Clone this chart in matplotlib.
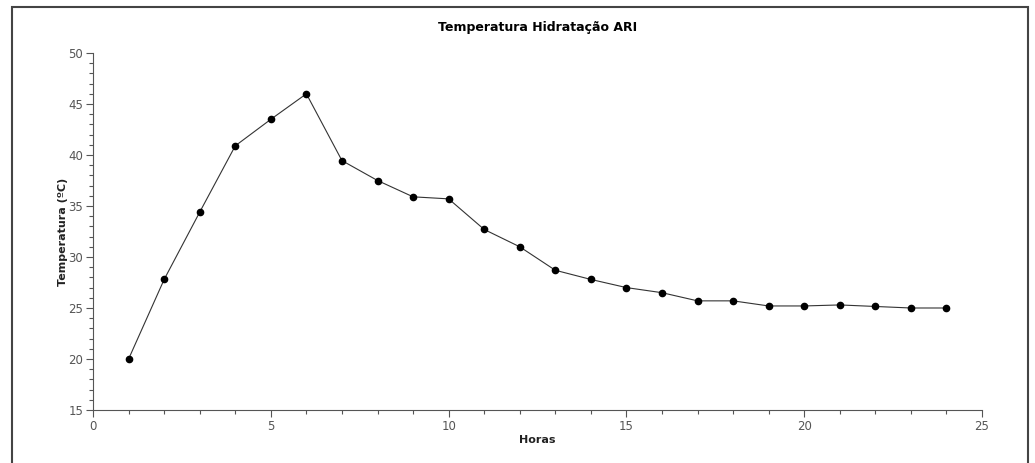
import numpy as np
import matplotlib
matplotlib.use('Agg')
import matplotlib.pyplot as plt
from matplotlib.patches import Rectangle
from matplotlib.ticker import MultipleLocator

horas = [1, 2, 3, 4, 5, 6, 7, 8, 9, 10, 11, 12,
         13, 14, 15, 16, 17, 18, 19, 20, 21, 22, 23, 24]
temperatura = [20.0, 27.8, 34.4, 40.9, 43.5, 46.0, 39.45, 37.5, 35.9, 35.7, 32.7, 31.0,
               28.7, 27.8, 27.0, 26.5, 25.7, 25.7, 25.2, 25.2, 25.3, 25.15, 25.0, 25.0]

plt.rcParams['font.family'] = ['DejaVu Sans']

fig = plt.figure(figsize=(10.35, 4.63), dpi=100)
ax = fig.add_axes([0.0899, 0.1145, 0.8589, 0.771])

ax.plot(horas, temperatura, '-', color='#333333', lw=0.8,
        marker='o', markersize=4.5, markerfacecolor='black', markeredgecolor='black')

ax.set_xlim(0, 25)
ax.set_ylim(15, 50)
ax.xaxis.set_major_locator(MultipleLocator(5))
ax.xaxis.set_minor_locator(MultipleLocator(1))
ax.yaxis.set_major_locator(MultipleLocator(5))
ax.yaxis.set_minor_locator(MultipleLocator(1))

for s in ['top', 'right']:
    ax.spines[s].set_visible(False)
for s in ['left', 'bottom']:
    ax.spines[s].set_color('#555555')
    ax.spines[s].set_linewidth(0.8)

ax.tick_params(which='major', direction='out', length=5, width=0.8, color='#555555',
               labelsize=8.5, labelcolor='#555555', pad=2)
ax.tick_params(which='minor', direction='out', length=3, width=0.8, color='#555555')

ax.set_title('Temperatura Hidratação ARI', fontsize=9, fontweight='bold', pad=16)
ax.set_xlabel('Horas', fontsize=8, fontweight='bold', color='#222222', labelpad=2)
ax.set_ylabel('Temperatura (ºC)', fontsize=8, fontweight='bold', color='#222222', labelpad=0)

# moldura em volta da figura
fig.patches.append(Rectangle((12 / 1035, -0.05), (1028 - 12) / 1035, 1.05 - 7 / 463,
                             transform=fig.transFigure, fill=False,
                             edgecolor='#444444', lw=1.5))

plt.savefig('out.png', dpi=100)
print('Fertig')
